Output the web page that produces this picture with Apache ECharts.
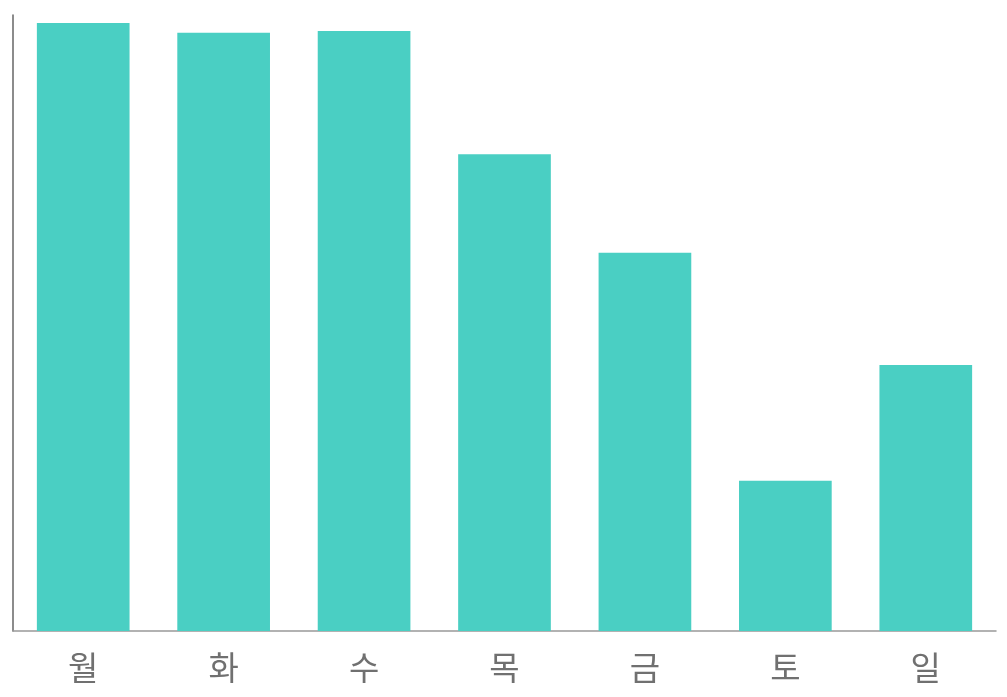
<!DOCTYPE html>
<html>
<head>
<meta charset="utf-8">
<script src="https://cdn.jsdelivr.net/npm/echarts@6/dist/echarts.min.js"></script>
<style>
    html, body { margin: 0; padding: 0; background: #fff; }
    #chart_days { width: 1007px; height: 697px; }
</style>
</head>
<body>
<div id="chart_days"></div>
<script>
var days = ['월', '화', '수', '목', '금', '토', '일'];
var values = [98.7, 97.1, 97.4, 77.4, 61.4, 24.4, 43.2];

$chart = echarts.init(document.getElementById('chart_days'));
option = {
    animation: false,
    grid: {
        left: 13,
        right: 11,
        top: 15,
        bottom: 66
    },
    xAxis: {
        type: 'category',
        data: days,
        axisTick: { show: false },
        axisLine: {
            lineStyle: { color: '#999', width: 1.5 }
        },
        axisLabel: {
            color: '#707070',
            fontSize: 33,
            margin: 20,
            fontFamily: 'Noto Sans CJK KR'
        }
    },
    yAxis: {
        type: 'value',
        min: 0,
        max: 100,
        axisLine: {
            show: true,
            lineStyle: { color: '#666', width: 1.5 }
        },
        axisTick: { show: false },
        axisLabel: { show: false },
        splitLine: { show: false }
    },
    series: [
        {
            type: 'bar',
            data: values,
            barWidth: '66%',
            itemStyle: {
                color: '#4acfc3'
            }
        }
    ]
};
$chart.setOption(option);
</script>
</body>
</html>
